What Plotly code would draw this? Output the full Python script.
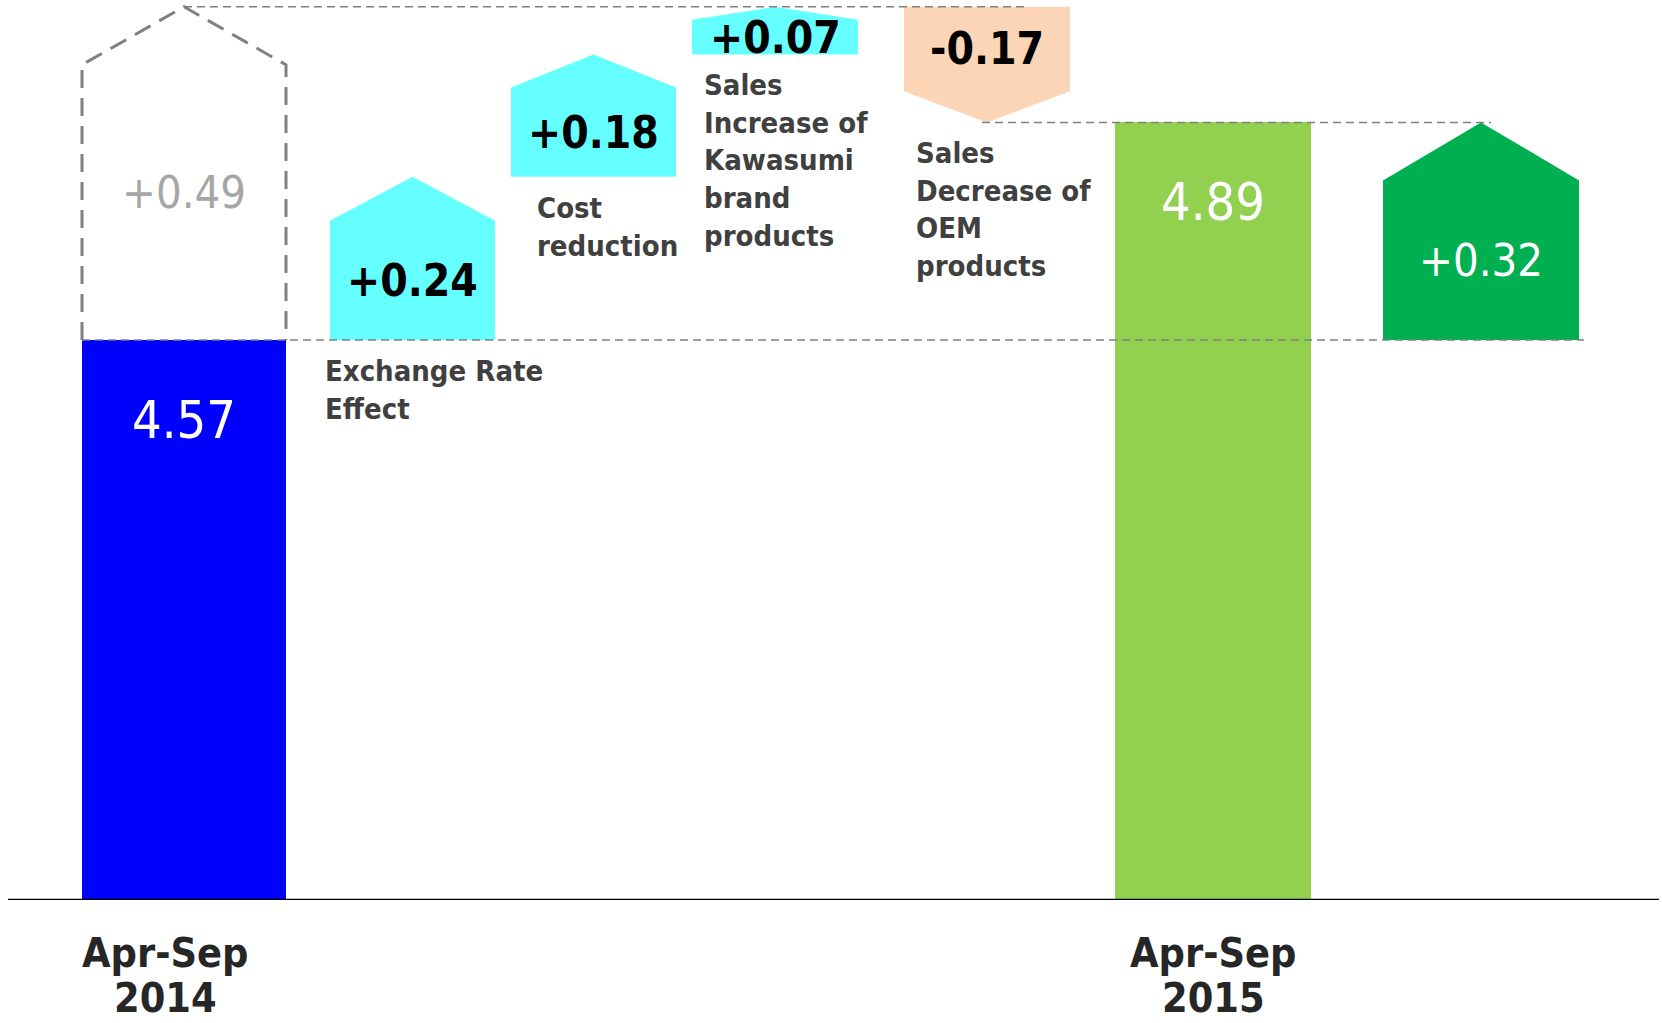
import plotly.graph_objects as go

# ---------------- data ----------------
period_labels = [["Apr-Sep", "2014"], ["Apr-Sep", "2015"]]
total_values = [4.57, 4.89]
total_texts = ["4.57", "4.89"]
factor_names = ["Exchange Rate<br>Effect", "Cost<br>reduction",
                "Sales<br>Increase of<br>Kawasumi<br>brand<br>products",
                "Sales<br>Decrease of<br>OEM<br>products"]
factor_values = [0.24, 0.18, 0.07, -0.17]
factor_texts = ["+0.24", "+0.18", "+0.07", "-0.17"]
gross_increase = 0.49
gross_text = "+0.49"
net_change = 0.32
net_text = "+0.32"

# ---------------- layout helpers (broken value scale) ----------------
W, H = 1662, 1023
PLOT_H = 900            # plot area height in px
BASE_PX = 560           # drawn height of the first total
K = 680                 # px per unit above the first total
def disp(level):
    return BASE_PX + (level - total_values[0]) * K

# slot centres / widths (layout, px-like x units)
x_centers = [184, 412.5, 593.5, 775, 987, 1213, 1481]
x_widths = [204, 165, 165, 166, 166, 196, 196]
label_dx = [-7, 24, 10, 10]
period_dx = [-19, 0]

BLUE, CYAN, PEACH, LGREEN, DGREEN = "#0000FF", "#66FFFF", "#FBD5B5", "#92D050", "#00B050"
GRID = "#808080"
LABEL_FONT = "DejaVu Sans Condensed, DejaVu Sans, sans-serif"

def head_of(h):
    return min(0.27 * abs(h), 58)

def up_arrow(xc, w, y0, y1):
    hd = head_of(y1 - y0)
    xs = [xc - w / 2, xc - w / 2, xc, xc + w / 2, xc + w / 2, xc - w / 2]
    ys = [y0, y1 - hd, y1, y1 - hd, y0, y0]
    return xs, ys

def down_arrow(xc, w, y0, y1):
    hd = head_of(y1 - y0)
    xs = [xc - w / 2, xc + w / 2, xc + w / 2, xc, xc - w / 2, xc - w / 2]
    ys = [y0, y0, y1 + hd, y1, y1 + hd, y0]
    return xs, ys

fig = go.Figure()
annotations = []
shapes = []

# totals as bars
for i, (v, col) in enumerate(zip(total_values, [BLUE, LGREEN])):
    idx = 0 if i == 0 else 5
    fig.add_trace(go.Bar(x=[x_centers[idx]], y=[disp(v)], width=[x_widths[idx]],
                         marker=dict(color=col, line=dict(width=0)),
                         hoverinfo="skip", showlegend=False))
    annotations.append(dict(x=x_centers[idx], y=disp(v), text=total_texts[i], showarrow=False,
                            yanchor="middle", yshift=-80,
                            font=dict(family=LABEL_FONT, size=52, color="white")))
    for j, line in enumerate(period_labels[i]):
        annotations.append(dict(x=x_centers[idx] + period_dx[i], y=0, text=line, showarrow=False,
                                yanchor="middle", yshift=-53 - 45 * j,
                                font=dict(family=LABEL_FONT, size=41, color="#262626", weight="bold")))

# gross increase dashed house
base = total_values[0]
xs, ys = up_arrow(x_centers[0], x_widths[0], disp(base), disp(base + gross_increase))
fig.add_trace(go.Scatter(x=xs[:-1], y=ys[:-1], mode="lines",
                         line=dict(color=GRID, width=3, dash="18px,10px"),
                         hoverinfo="skip", showlegend=False))
body_top = disp(base + gross_increase) - head_of(disp(base + gross_increase) - disp(base))
annotations.append(dict(x=x_centers[0], y=(disp(base) + body_top) / 2 + 10, text=gross_text,
                        showarrow=False, font=dict(family=LABEL_FONT, size=45, color="#A6A6A6")))

# factor arrows
level = base
for i, dv in enumerate(factor_values):
    idx = i + 1
    y0, y1 = disp(level), disp(level + dv)
    if dv >= 0:
        xs, ys = up_arrow(x_centers[idx], x_widths[idx], y0, y1)
        col = CYAN
        body_mid = (y0 + y1 - head_of(y1 - y0)) / 2
        bottom = y0
    else:
        xs, ys = down_arrow(x_centers[idx], x_widths[idx], y0, y1)
        col = PEACH
        body_mid = (y0 + y1 + head_of(y1 - y0)) / 2
        bottom = y1
    fig.add_trace(go.Scatter(x=xs, y=ys, mode="lines", fill="toself", fillcolor=col,
                             line=dict(width=0, color=col), hoverinfo="skip", showlegend=False))
    annotations.append(dict(x=x_centers[idx], y=body_mid, text=factor_texts[i], showarrow=False,
                            font=dict(family=LABEL_FONT, size=44, color="black", weight="bold")))
    annotations.append(dict(x=x_centers[idx] - x_widths[idx] / 2, y=bottom, text=factor_names[i],
                            showarrow=False, xanchor="left", yanchor="top", align="left",
                            xshift=label_dx[i], yshift=-12,
                            font=dict(family=LABEL_FONT, size=29, color="#404040", weight="bold")))
    level += dv

# net change arrow
y0, y1 = disp(base), disp(base + net_change)
xs, ys = up_arrow(x_centers[6], x_widths[6], y0, y1)
fig.add_trace(go.Scatter(x=xs, y=ys, mode="lines", fill="toself", fillcolor=DGREEN,
                         line=dict(width=0, color=DGREEN), hoverinfo="skip", showlegend=False))
annotations.append(dict(x=x_centers[6], y=(y0 + y1 - head_of(y1 - y0)) / 2, text=net_text,
                        showarrow=False, font=dict(family=LABEL_FONT, size=45, color="white")))

# guide lines
top_level = base + gross_increase
guides = [
    (x_centers[0] - x_widths[0] / 2, x_centers[6] + x_widths[6] / 2 + 5, disp(base)),
    (x_centers[0], x_centers[4] + x_widths[4] / 4, disp(top_level)),
    (x_centers[4] - 5, x_centers[6] + 10, disp(total_values[1])),
]
for xa, xb, yy in guides:
    shapes.append(dict(type="line", x0=xa, x1=xb, y0=yy, y1=yy, layer="above",
                       line=dict(color=GRID, width=1.5, dash="8px,5px")))
# baseline
shapes.append(dict(type="line", x0=8, x1=W - 3, y0=0, y1=0, layer="above",
                   line=dict(color="black", width=2.5)))

fig.update_layout(
    width=W, height=H, margin=dict(l=0, r=0, t=0, b=H - PLOT_H),
    plot_bgcolor="white", paper_bgcolor="white",
    xaxis=dict(range=[0, W], visible=False, fixedrange=True),
    yaxis=dict(range=[0, PLOT_H], visible=False, fixedrange=True),
    annotations=annotations, shapes=shapes, bargap=0, showlegend=False,
)
fig.write_html("out.html", config={"displayModeBar": False},
               post_script="document.body.style.margin='0';document.body.style.overflow='hidden';")
